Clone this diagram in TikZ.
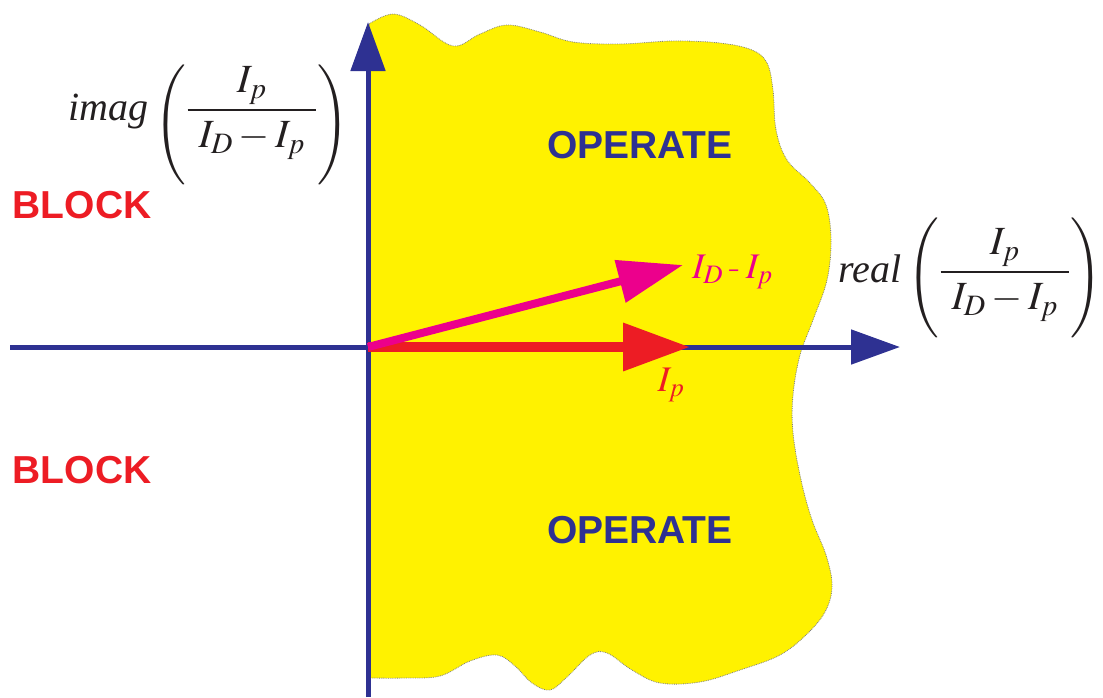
\documentclass[tikz,border=0pt]{standalone}
\usepackage{mathptmx}
\usepackage[no-math]{fontspec}
\newfontfamily\sansb{Liberation Sans}
\newfontfamily\serifit{Liberation Serif}
\usetikzlibrary{arrows.meta}
\definecolor{axisblue}{HTML}{2E3192}
\definecolor{redarr}{HTML}{ED1C24}
\definecolor{magarr}{HTML}{EC008C}
\definecolor{zoneyellow}{HTML}{FFF200}
\definecolor{txtdark}{HTML}{231F20}
\newcommand{\ratio}[1]{\raisebox{-#1}{$\Biggl($}\displaystyle\frac{I_p}{\hspace{11pt}I_D-I_p\hspace{11pt}}\raisebox{-#1}{$\Biggr)$}}
\tikzset{
  axis/.style={draw=axisblue, line width=5pt, -{Triangle[length=49pt,width=34pt]}},
  zone/.style={fill=zoneyellow, draw=gray, densely dotted, line width=0.8pt},
  bigword/.style={font=\sansb\bfseries\fontsize{39}{42}\selectfont, inner sep=0pt},
  axislabel/.style={font=\fontsize{40}{44}\selectfont, text=txtdark, inner sep=0pt, anchor=west},
  phlabel/.style={font=\fontsize{36}{40}\selectfont, inner sep=0pt}
}
\begin{document}
\begin{tikzpicture}[x=1pt,y=-1pt]
\useasboundingbox (0,0) rectangle (1103,697);
% operate zone
\path[zone] plot[smooth, tension=0.6] coordinates {
 (369,24) (393,14) (420,25) (453,46) (480,34) (507,25) (540,32) (573,42)
 (620,44) (673,41) (720,43) (752,50) (767,63) (773,90) (776,130) (787,160)
 (810,183) (826,205) (831,240) (827,280) (813,320) (800,355) (793,395)
 (793,433) (801,480) (812,520) (826,555) (832,585) (826,610) (808,633)
 (780,655) (740,670) (700,682) (660,683) (632,670) (607,653) (590,655)
 (567,677) (550,690) (532,683) (515,666) (497,655) (470,661) (440,676)
 (405,678) (370,678)} -- cycle;
% coordinates
\coordinate (O) at (368,347);
\coordinate (xs) at (10,347);
\coordinate (xe) at (900,347);
\coordinate (ys) at (368,697);
\coordinate (ye) at (368,22);
\coordinate (ipt) at (690,347);
\coordinate (idt) at (683,265);
% axes
\draw[axis] (xs) -- (xe);
\draw[axis] (ys) -- (ye);
% phasors
\draw[draw=redarr, line width=10pt, -{Triangle[length=67pt,width=46pt]}] (O) -- (ipt);
\draw[draw=magarr, line width=8pt, -{Triangle[length=65pt,width=42pt]}] (O) -- (idt);
% labels
\node[bigword, text=redarr] (b1) at (82,205) {BLOCK};
\node[bigword, text=redarr] (b2) at (82,470) {BLOCK};
\node[bigword, text=axisblue] (o1) at (640,145) {OPERATE};
\node[bigword, text=axisblue] (o2) at (640,530) {OPERATE};
\node[axislabel] (im) at (68,125) {{\serifit\itshape imag}\,$\ratio{15pt}$};
\node[axislabel] (re) at (838,278) {{\serifit\itshape real}\,$\ratio{6pt}$};
\node[phlabel, text=magarr, anchor=west] (lid) at (692,272) {$I_D$\,-\,$I_p$};
\node[phlabel, text=redarr] (lip) at (671,385) {$I_p$};
\end{tikzpicture}
\end{document}
